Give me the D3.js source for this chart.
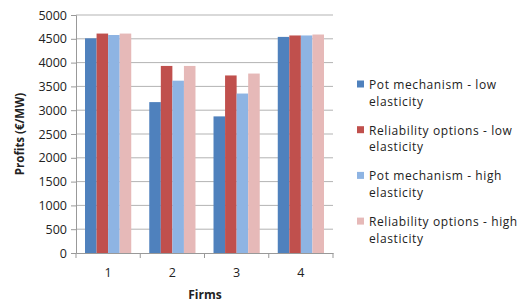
<!DOCTYPE html>
<html>
<head>
<meta charset="utf-8">
<script src="https://cdn.jsdelivr.net/npm/d3@7"></script>
<style>
body { margin: 0; background: #fff; }
text { font-family: "Open Sans", sans-serif; fill: #222; }
</style>
</head>
<body>
<script>
const firms = ["1", "2", "3", "4"];
const seriesNames = [
  ["Pot mechanism  - low", "elasticity"],
  ["Reliability options - low", "elasticity"],
  ["Pot mechanism  - high", "elasticity"],
  ["Reliability options - high", "elasticity"]
];
const potLow = [4510, 3170, 2870, 4540];
const relLow = [4610, 3930, 3730, 4570];
const potHigh = [4580, 3620, 3350, 4570];
const relHigh = [4610, 3930, 3770, 4590];
const yTicks = [0, 500, 1000, 1500, 2000, 2500, 3000, 3500, 4000, 4500, 5000];
const colors = ["#4f81bd", "#c0504d", "#8eb4e3", "#e6b9b8"];

const series = [potLow, relLow, potHigh, relHigh];

const svg = d3.select("body").append("svg")
  .attr("width", 518).attr("height", 304);

const mLeft = 76, mRight = 333, mTop = 15, mBottom = 253;

const x = d3.scaleBand().domain(firms).range([mLeft, mRight]).paddingInner(0).paddingOuter(0);
const x1 = d3.scaleBand().domain(d3.range(4)).range([0, x.bandwidth()]).paddingOuter(0.78).paddingInner(0);
const y = d3.scaleLinear().domain([0, 5000]).range([mBottom, mTop]);

// gridlines
svg.append("g").selectAll("line")
  .data(yTicks.slice(1))
  .join("line")
  .attr("x1", mLeft).attr("x2", mRight)
  .attr("y1", d => y(d)).attr("y2", d => y(d))
  .attr("stroke", "#b3b3b3").attr("stroke-width", 1);

// bars
svg.append("g").selectAll("g")
  .data(firms)
  .join("g")
  .attr("transform", d => `translate(${x(d)},0)`)
  .selectAll("rect")
  .data((d, i) => series.map((s, k) => ({ k, v: s[i] })))
  .join("rect")
  .attr("x", d => x1(d.k))
  .attr("width", x1.bandwidth())
  .attr("y", d => y(d.v))
  .attr("height", d => y(0) - y(d.v))
  .attr("fill", d => colors[d.k]);

// y axis
const yAxis = svg.append("g")
  .attr("transform", `translate(${mLeft},0)`)
  .call(d3.axisLeft(y).tickValues(yTicks).tickFormat(d3.format("d")).tickSize(5).tickPadding(4));
yAxis.select(".domain").attr("stroke", "#999");
yAxis.selectAll(".tick line").attr("stroke", "#999");
yAxis.selectAll("text").attr("font-size", 12.5).attr("fill", "#222")
  .attr("font-family", "Open Sans");

// x axis
const xAxis = svg.append("g")
  .attr("transform", `translate(0,${mBottom})`)
  .call(d3.axisBottom(x).tickSize(0).tickPadding(15));
xAxis.select(".domain").attr("stroke", "#999");
xAxis.selectAll("text").attr("font-size", 12.5).attr("fill", "#222")
  .attr("font-family", "Open Sans");
svg.append("g").selectAll("line")
  .data(d3.range(5))
  .join("line")
  .attr("x1", i => mLeft + i * x.step()).attr("x2", i => mLeft + i * x.step())
  .attr("y1", mBottom).attr("y2", mBottom + 5)
  .attr("stroke", "#999");

// axis titles
svg.append("text")
  .attr("transform", "translate(24,134) rotate(-90)")
  .attr("text-anchor", "middle")
  .attr("font-size", 11.5).attr("font-weight", "bold")
  .text("Profits (€/MW)");
svg.append("text")
  .attr("x", 205).attr("y", 299)
  .attr("text-anchor", "middle")
  .attr("font-size", 12).attr("font-weight", "bold")
  .text("Firms");

// legend
const legend = svg.append("g").selectAll("g")
  .data(seriesNames)
  .join("g")
  .attr("transform", (d, i) => `translate(357,${84 + i * 45.7})`);
legend.append("rect")
  .attr("x", 0).attr("y", -3.5).attr("width", 7).attr("height", 7)
  .attr("fill", (d, i) => colors[i]);
legend.append("text")
  .attr("x", 12).attr("y", 5)
  .attr("font-size", 12).attr("letter-spacing", 0.6)
  .text(d => d[0]);
legend.append("text")
  .attr("x", 12).attr("y", 21.5)
  .attr("font-size", 12).attr("letter-spacing", 0.6)
  .text(d => d[1]);
</script>
</body>
</html>
